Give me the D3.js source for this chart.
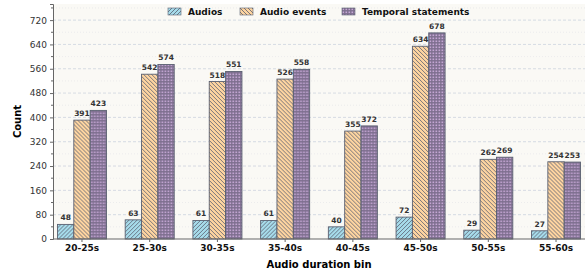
<!DOCTYPE html>
<html>
<head>
<meta charset="utf-8">
<script src="https://cdn.jsdelivr.net/npm/d3@7"></script>
<style>
  body { margin: 0; background: #fff; }
  text { font-family: "DejaVu Sans", sans-serif; }
</style>
</head>
<body>
<div id="chart"></div>
<script>
// Data
var bins = ["20-25s", "25-30s", "30-35s", "35-40s", "40-45s", "45-50s", "50-55s", "55-60s"];
var seriesNames = ["Audios", "Audio events", "Temporal statements"];
var audios = [48, 63, 61, 61, 40, 72, 29, 27];
var audioEvents = [391, 542, 518, 526, 355, 634, 262, 254];
var temporalStatements = [423, 574, 551, 558, 372, 678, 269, 253];
var yTicks = [0, 80, 160, 240, 320, 400, 480, 560, 640, 720];

var svgWidth = 587;
var svgHeight = 273;
var margin = { top: 4, right: 2, bottom: 34, left: 53 };
var width = svgWidth - margin.left - margin.right;
var height = svgHeight - margin.top - margin.bottom;

var fills = ["#a6dbea", "#fdd4a0", "#c6a8d6"];
var edge = "#5a6070";

var svg = d3.select("#chart").append("svg")
    .attr("width", svgWidth)
    .attr("height", svgHeight);

// hatch patterns
var defs = svg.append("defs");
function hatch(id, fill, draw) {
    var p = defs.append("pattern")
        .attr("id", id)
        .attr("patternUnits", "userSpaceOnUse")
        .attr("width", 4).attr("height", 4);
    p.append("rect").attr("width", 4).attr("height", 4).attr("fill", fill);
    draw(p);
}
hatch("h0", fills[0], function (p) {
    p.append("path").attr("d", "M-1,1 L1,-1 M0,4 L4,0 M3,5 L5,3")
        .attr("stroke", edge).attr("stroke-width", 0.8);
});
hatch("h1", fills[1], function (p) {
    p.append("path").attr("d", "M-1,3 L1,5 M0,0 L4,4 M3,-1 L5,1")
        .attr("stroke", edge).attr("stroke-width", 0.8);
});
defs.append("pattern")
    .attr("id", "h2")
    .attr("patternUnits", "userSpaceOnUse")
    .attr("width", 3).attr("height", 3)
    .call(function (p) {
        p.append("rect").attr("width", 3).attr("height", 3).attr("fill", "#7d6e8e");
        p.append("rect").attr("x", 0.5).attr("y", 0.5).attr("width", 1.6).attr("height", 1.6).attr("fill", fills[2]);
    });

var g = svg.append("g").attr("transform", `translate(${margin.left}, ${margin.top})`);

// background
g.append("rect").attr("width", width).attr("height", height).attr("fill", "#faf9f5");

var x0 = d3.scaleBand().domain(bins).range([0, width]).paddingInner(0.276).paddingOuter(0.066);
var x1 = d3.scaleBand().domain(seriesNames).range([0, x0.bandwidth()]);
var y = d3.scaleLinear().domain([0, 773]).range([height, 0]);

// grid
g.append("g").selectAll("line").data(d3.range(40, 773, 80)).enter().append("line")
    .attr("x1", 0).attr("x2", width)
    .attr("y1", d => y(d)).attr("y2", d => y(d))
    .attr("stroke", "#e3e3e8").attr("stroke-width", 0.6).attr("stroke-dasharray", "1,2");
g.append("g").selectAll("line").data(yTicks.slice(1)).enter().append("line")
    .attr("x1", 0).attr("x2", width)
    .attr("y1", d => y(d)).attr("y2", d => y(d))
    .attr("stroke", "#cdd3de").attr("stroke-width", 0.8).attr("stroke-dasharray", "3,2");

// bars
var rows = bins.map(function (b, i) {
    return { bin: b, values: [audios[i], audioEvents[i], temporalStatements[i]] };
});
var groups = g.selectAll(".grp").data(rows).enter().append("g")
    .attr("transform", d => `translate(${x0(d.bin)},0)`);
groups.selectAll("rect").data(d => d.values.map((v, k) => ({ k: k, v: v })))
    .enter().append("rect")
    .attr("x", d => x1(seriesNames[d.k]))
    .attr("y", d => y(d.v))
    .attr("width", x1.bandwidth())
    .attr("height", d => height - y(d.v))
    .attr("fill", d => `url(#h${d.k})`)
    .attr("stroke", edge).attr("stroke-width", 0.9);
groups.selectAll(".val").data(d => d.values.map((v, k) => ({ k: k, v: v })))
    .enter().append("text")
    .attr("x", d => x1(seriesNames[d.k]) + x1.bandwidth() / 2)
    .attr("y", d => y(d.v) - 4)
    .attr("text-anchor", "middle")
    .attr("font-size", "7.5px").attr("font-weight", "bold").attr("fill", "#333")
    .text(d => d.v);

// axes
var yAxis = d3.axisLeft(y).tickValues(yTicks).tickSize(3).tickPadding(3);
var yg = g.append("g").call(yAxis);
yg.select(".domain").attr("stroke", "#666");
yg.selectAll(".tick line").attr("stroke", "#666");
yg.selectAll("text").attr("font-size", "9px").attr("fill", "#333").style("font-family", "DejaVu Sans");
g.append("g").selectAll("line").data(d3.range(40, 773, 80)).enter().append("line")
    .attr("x1", -2).attr("x2", 0).attr("y1", d => y(d)).attr("y2", d => y(d)).attr("stroke", "#666");

var xAxis = d3.axisBottom(x0).tickSize(3).tickPadding(3);
var xg = g.append("g").attr("transform", `translate(0, ${height})`).call(xAxis);
xg.select(".domain").attr("stroke", "#666").attr("d", `M0,0H${width}`);
xg.selectAll(".tick line").attr("stroke", "#666");
xg.selectAll("text").attr("font-size", "9px").attr("font-weight", "bold").attr("fill", "#111").style("font-family", "DejaVu Sans");

// axis titles
svg.append("text")
    .attr("transform", "rotate(-90)")
    .attr("x", -(margin.top + height / 2)).attr("y", 21)
    .attr("text-anchor", "middle")
    .attr("font-size", "10px").attr("font-weight", "bold")
    .text("Count");
svg.append("text")
    .attr("x", margin.left + width / 2).attr("y", 268)
    .attr("text-anchor", "middle")
    .attr("font-size", "10px").attr("font-weight", "bold")
    .text("Audio duration bin");

// legend
var legendX = [168, 240, 342];
var legend = svg.append("g").selectAll("g").data(seriesNames).enter().append("g")
    .attr("transform", (d, i) => `translate(${legendX[i]}, 8)`);
legend.append("rect").attr("width", 13).attr("height", 7)
    .attr("fill", (d, i) => `url(#h${i})`).attr("stroke", edge).attr("stroke-width", 0.6);
legend.append("text").attr("x", 20).attr("y", 7)
    .attr("font-size", "9px").attr("font-weight", "bold").attr("fill", "#111")
    .text(d => d);
</script>
</body>
</html>
